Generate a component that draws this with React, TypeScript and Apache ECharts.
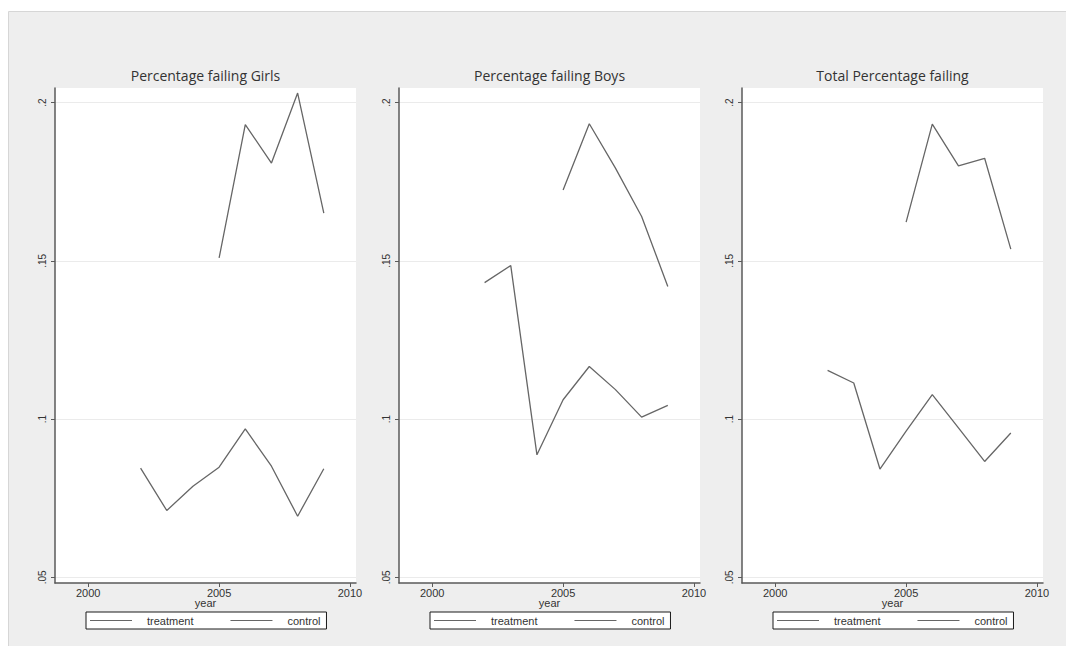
import React, { useEffect, useRef } from "react";
import * as echarts from "echarts";

const controlYears = [2002, 2003, 2004, 2005, 2006, 2007, 2008, 2009];
const treatmentYears = [2005, 2006, 2007, 2008, 2009];

const girlsTreatment = [0.1509, 0.193, 0.1809, 0.203, 0.1651];
const girlsControl = [0.0845, 0.0711, 0.0788, 0.0848, 0.0969, 0.0851, 0.0693, 0.0843];
const boysTreatment = [0.1724, 0.1933, 0.1793, 0.164, 0.1419];
const boysControl = [0.1431, 0.1485, 0.0887, 0.1061, 0.1166, 0.1093, 0.1006, 0.1043];
const totalTreatment = [0.1622, 0.1932, 0.18, 0.1824, 0.1537];
const totalControl = [0.1154, 0.1114, 0.0842, 0.0962, 0.1077, 0.0972, 0.0866, 0.0956];

const panelTitles = ["Percentage failing Girls", "Percentage failing Boys", "Total Percentage failing"];
const seriesNames = ["treatment", "control"];
const yTicks = [0.05, 0.1, 0.15, 0.2];
const xTicks = [2000, 2005, 2010];
const xAxisName = "year";

const panels = [
  { treatment: girlsTreatment, control: girlsControl },
  { treatment: boysTreatment, control: boysControl },
  { treatment: totalTreatment, control: totalControl },
];

const GRID_LEFTS = [55, 399, 742];
const GRID_W = 301;
const GRID_TOP = 88;
const GRID_H = 495;
const LINE_COLOR = "#666666";
const AXIS_COLOR = "#5a5a5a";
const TEXT_COLOR = "#333333";

function fmtY(v: number): string {
  return String(+v.toFixed(2)).replace(/^0/, "");
}

export default function App() {
  const ref = useRef<HTMLDivElement>(null);

  useEffect(() => {
    if (!ref.current) return;
    const chart = echarts.init(ref.current, null, { renderer: "svg" });

    const grid = GRID_LEFTS.map((left) => ({
      left,
      top: GRID_TOP,
      width: GRID_W,
      height: GRID_H,
      show: true,
      backgroundColor: "#ffffff",
      borderWidth: 0,
      containLabel: false,
    }));

    const xAxis = GRID_LEFTS.map((_, i) => ({
      type: "value",
      gridIndex: i,
      min: 1998.73,
      max: 2010.23,
      name: xAxisName,
      nameLocation: "middle",
      nameGap: 14,
      nameMoveOverlap: false,
      nameTextStyle: { fontSize: 11, color: TEXT_COLOR, fontFamily: "Liberation Sans" },
      axisLine: { show: true, onZero: false, lineStyle: { color: AXIS_COLOR, width: 1.5 } },
      axisTick: { show: true, inside: false, length: 4, customValues: xTicks, lineStyle: { color: AXIS_COLOR } },
      axisLabel: {
        customValues: xTicks,
        fontSize: 11,
        color: TEXT_COLOR,
        fontFamily: "Liberation Sans",
        margin: 4,
        formatter: (v: number) => String(Math.round(v)),
      },
      splitLine: { show: false },
    }));

    const yAxis = GRID_LEFTS.map((_, i) => ({
      type: "value",
      gridIndex: i,
      min: 0.0482,
      max: 0.2046,
      axisLine: { show: true, onZero: false, lineStyle: { color: AXIS_COLOR, width: 1.5 } },
      axisTick: { show: true, inside: false, length: 4, customValues: yTicks, lineStyle: { color: AXIS_COLOR } },
      axisLabel: {
        customValues: yTicks,
        rotate: 90,
        fontSize: 10,
        color: TEXT_COLOR,
        fontFamily: "Liberation Sans",
        margin: 8,
        formatter: (v: number) => fmtY(v),
      },
      splitLine: { show: true, lineStyle: { color: "#ebebeb", width: 1 } },
    }));

    const series: any[] = [];
    panels.forEach((p, i) => {
      series.push({
        type: "line",
        name: seriesNames[0],
        xAxisIndex: i,
        yAxisIndex: i,
        symbol: "none",
        lineStyle: { color: LINE_COLOR, width: 1.3 },
        itemStyle: { color: LINE_COLOR },
        data: treatmentYears.map((y, k) => [y, p.treatment[k]]),
      });
      series.push({
        type: "line",
        name: seriesNames[1],
        xAxisIndex: i,
        yAxisIndex: i,
        symbol: "none",
        lineStyle: { color: LINE_COLOR, width: 1.3 },
        itemStyle: { color: LINE_COLOR },
        data: controlYears.map((y, k) => [y, p.control[k]]),
      });
    });

    const legend = GRID_LEFTS.map((left) => ({
      data: seriesNames,
      left: left + 31,
      top: 612,
      orient: "horizontal",
      backgroundColor: "#ffffff",
      borderColor: "#1a1a1a",
      borderWidth: 1,
      borderRadius: 0,
      padding: [2, 6, 2, 4],
      icon: "rect",
      itemWidth: 42,
      itemHeight: 1,
      itemGap: 37,
      itemStyle: { color: LINE_COLOR, borderWidth: 0 },
      selectedMode: false,
      textStyle: {
        fontSize: 11,
        lineHeight: 13,
        color: TEXT_COLOR,
        fontFamily: "Liberation Sans",
        padding: [0, 0, 0, 10],
      },
    }));

    const graphic: any[] = [
      {
        type: "rect",
        z: -100,
        silent: true,
        shape: { x: 8.5, y: 11.5, width: 1070, height: 650 },
        style: { fill: "#eeeeee", stroke: "#d6d6d6", lineWidth: 1 },
      },
      ...GRID_LEFTS.map((left, i) => ({
        type: "text",
        x: left + GRID_W / 2,
        y: 75,
        silent: true,
        style: {
          text: panelTitles[i],
          textAlign: "center",
          textVerticalAlign: "middle",
          fontSize: 14,
          fontFamily: "Open Sans",
          fill: TEXT_COLOR,
        },
      })),
    ];

    chart.setOption({
      animation: false,
      backgroundColor: "#ffffff",
      grid,
      xAxis,
      yAxis,
      series,
      legend,
      graphic,
    });

    return () => chart.dispose();
  }, []);

  return (
    <div
      ref={ref}
      style={{ position: "fixed", left: 0, top: 0, width: 1066, height: 646 }}
    />
  );
}
